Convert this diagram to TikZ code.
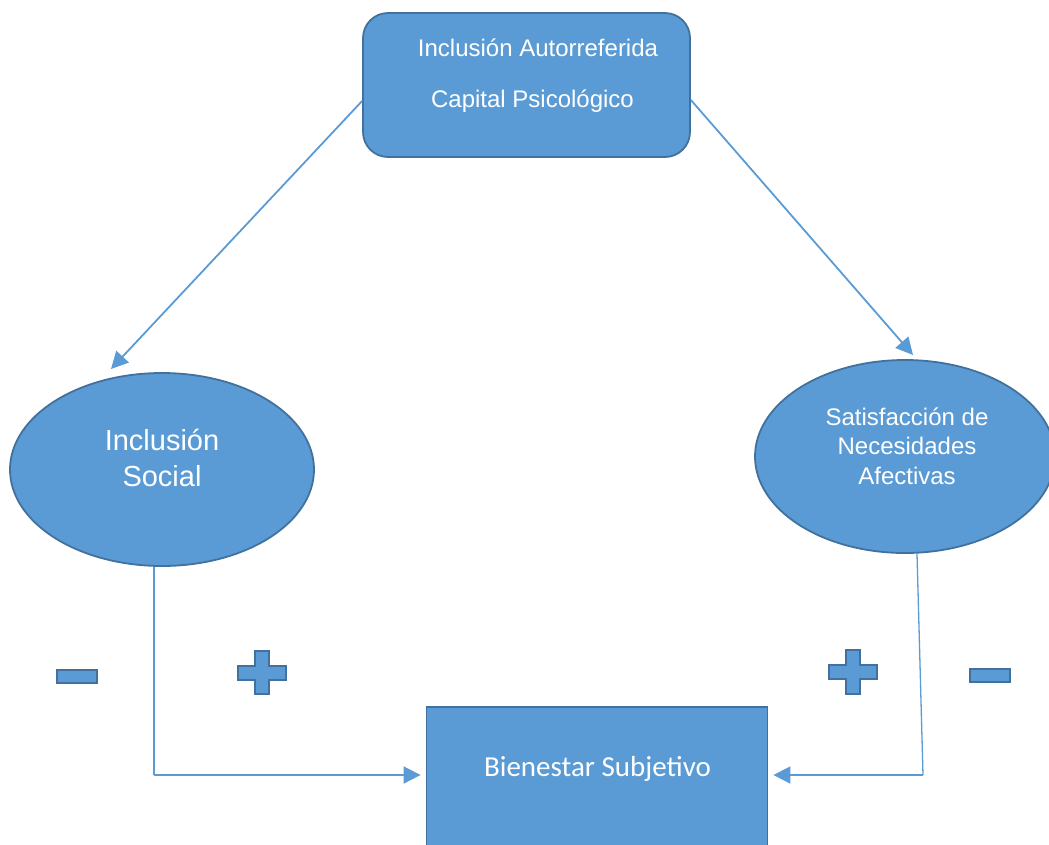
\documentclass[tikz,border=0pt]{standalone}
\usepackage{fontspec}
\setmainfont{Liberation Sans}
\newfontfamily\calfont{Carlito}
\usetikzlibrary{shapes.geometric,arrows.meta}
\definecolor{fillblue}{HTML}{5B9BD5}
\definecolor{edgeblue}{HTML}{41719C}
\definecolor{lineblue}{HTML}{5B9BD5}
\tikzset{
  shapebox/.style={fill=fillblue, draw=edgeblue, line width=1.8pt, inner sep=0pt},
  txt/.style={text=white, inner sep=0pt, align=center},
  conn/.style={draw=lineblue, line width=1.8pt},
  tip/.style={-{Triangle[length=17pt,width=17pt]}},
  sign/.style={fill=fillblue, draw=edgeblue, line width=2.4pt, line join=miter}
}
\begin{document}
\begin{tikzpicture}[x=1pt,y=-1pt]
\useasboundingbox (0,0) rectangle (1049,844);
\clip (0,0) rectangle (1049,844);
% boxes
\node[shapebox, rounded corners=25pt, minimum width=327pt, minimum height=144pt] (top) at (526.5,85) {};
\node[txt, font=\fontsize{24}{29}\selectfont, anchor=base] (t1) at (538,56) {Inclusión Autorreferida};
\node[txt, font=\fontsize{24}{29}\selectfont, anchor=base] (t2) at (532.5,107) {Capital Psicológico};

\node[shapebox, ellipse, minimum width=304pt, minimum height=193pt] (lell) at (162,469.5) {};
\node[txt, font=\fontsize{29}{36}\selectfont] (ltxt) at (162,458) {Inclusión\\Social};

\node[shapebox, ellipse, minimum width=300pt, minimum height=193pt] (rell) at (905,456.5) {};
\node[txt, font=\fontsize{24}{29.5}\selectfont] (rtxt) at (907,446) {Satisfacción de\\Necesidades\\Afectivas};

\node[shapebox, minimum width=341pt, minimum height=170pt, anchor=north] (bien) at (597,706) {};
\node[txt, font=\calfont\fontsize{29}{35}\selectfont, anchor=base] (btxt) at (597.5,776) {Bienestar Subjetivo};

% connectors
\coordinate (la) at (111,369);
\coordinate (ra) at (913,355);
\draw[conn, tip] ([yshift=-16pt]top.west) -- (la);
\draw[conn, tip] ([yshift=-15pt]top.east) -- (ra);

\coordinate (lc) at (154,775);
\coordinate (rc) at (923,775);
\draw[conn, line width=1.3pt] ([xshift=-8pt]lell.south) -- (lc);
\draw[conn, tip] (lc) -- ([xshift=-5pt]bien.west |- lc);
\draw[conn, line width=1.3pt] ([xshift=12pt]rell.south) -- (rc);
\draw[conn, tip] (rc) -- ([xshift=5pt]bien.east |- rc);

% signs
\draw[sign] (57,670) rectangle (97,683);
\draw[sign] (255,651) -- (269,651) -- (269,666) -- (286,666) -- (286,680) -- (269,680) -- (269,694) -- (255,694) -- (255,680) -- (238,680) -- (238,666) -- (255,666) -- cycle;
\draw[sign] (846,650) -- (860,650) -- (860,665) -- (877,665) -- (877,679) -- (860,679) -- (860,694) -- (846,694) -- (846,679) -- (829,679) -- (829,665) -- (846,665) -- cycle;
\draw[sign] (970,669) rectangle (1010,682);
\end{tikzpicture}
\end{document}
